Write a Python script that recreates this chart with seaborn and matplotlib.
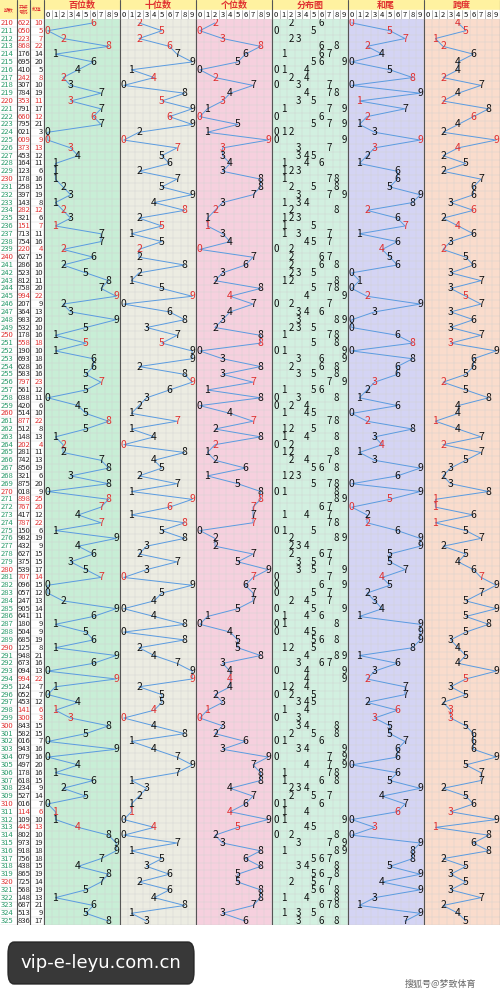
import matplotlib
matplotlib.use("Agg")
import matplotlib.pyplot as plt
import seaborn as sns
import numpy as np
import pandas as pd
from matplotlib.patches import Rectangle, FancyBboxPatch

sns.set_theme(style="white")
plt.rcParams['font.family'] = ['Noto Sans CJK SC', 'DejaVu Sans']

issues = list(range(210, 326))
numbers = ["622","050","223","868","176","695","410","242","307","784","353","791","660","795","021","009",
           "373","453","164","123","178","258","397","143","282","321","151","713","754","220","627","286",
           "523","812","758","994","207","364","983","532","178","558","190","693","628","583","797","561",
           "038","420","514","877","512","148","202","281","742","856","321","875","018","898","767","417",
           "787","150","982","432","627","375","539","707","096","057","247","905","641","180","504","685",
           "125","948","673","094","994","124","052","453","141","300","843","582","016","943","079","497",
           "178","618","234","527","016","114","109","445","802","973","918","756","438","865","725","568",
           "148","687","513","836"]
panel_titles = ["百位数", "十位数", "个位数", "分布图", "和尾", "跨度"]
panel_colors = ["#c8eed6", "#ecece2", "#f6d0de", "#d2f0e0", "#d4d4f4", "#fadccc"]
col_titles = ["期数", "开奖\n号码", "和值"]

digits = [[int(c) for c in n] for n in numbers]
sums = [sum(d) for d in digits]
pair = [len(set(d)) < 3 for d in digits]
series = {
    0: [d[0] for d in digits],
    1: [d[1] for d in digits],
    2: [d[2] for d in digits],
    4: [s % 10 for s in sums],
    5: [max(d) - min(d) for d in digits],
}

W, H = 500, 996
fig = plt.figure(figsize=(W/100, H/100), dpi=100)
top, bot = 19, 925
ax = fig.add_axes([0, 1 - bot/H, 1, (bot-top)/H])
L = -44/7.6
ax.set_xlim(L, 60)
ax.set_ylim(325.5, 209.5)
ax.axis("off")

for p in range(6):
    ax.add_patch(Rectangle((p*10, 209.5), 10, 116, color=panel_colors[p], zorder=0))
ax.add_patch(Rectangle((L, 209.5), -L, 116, color="white", zorder=0))
for y in np.arange(209.5, 326, 1):
    ax.plot([L, 60], [y, y], color="#d0d0d0", lw=0.3, zorder=1)
for x in np.arange(0, 61, 1):
    ax.plot([x, x], [209.5, 325.5], color="#d0d0d0", lw=0.3, zorder=1)
for x in [L+17/7.6, L+30/7.6] + [p*10 for p in range(7)]:
    ax.plot([x, x], [209.5, 325.5], color="#555555", lw=0.8, zorder=2)

red = "#e03030"
for i, iss in enumerate(issues):
    c = red if iss % 10 == 0 else "#2a9a6a"
    ax.text(L+0.1, iss, str(iss), fontsize=5.5, color=c, va="center", ha="left", zorder=5)
    cc = red if pair[i] else "#222222"
    ax.text(L+17.5/7.6, iss, numbers[i], fontsize=5.5, color=cc, va="center", ha="left", zorder=5)
    ax.text(L+43/7.6, iss, str(sums[i]), fontsize=5.5, color=cc, va="center", ha="right", zorder=5)

for p, vals in series.items():
    xs = [p*10 + v + 0.5 for v in vals]
    df = pd.DataFrame({"x": xs, "y": issues})
    sns.lineplot(data=df, x="x", y="y", sort=False, estimator=None, ax=ax,
                 color="#5a9be0", lw=0.7, zorder=3, legend=False)
    for i, (x, v) in enumerate(zip(xs, vals)):
        ax.text(x, issues[i], str(v), fontsize=7.5, color=red if pair[i] else "#111111",
                ha="center", va="center", zorder=5)
for i, d in enumerate(digits):
    for v in sorted(set(d)):
        ax.text(30 + v + 0.5, issues[i], str(v), fontsize=7, color="#111111",
                ha="center", va="center", zorder=5)
ax.set_xlabel(""); ax.set_ylabel("")

# header
hx = fig.add_axes([0, 1 - top/H, 1, top/H])
hx.set_xlim(L, 60); hx.set_ylim(2, 0); hx.axis("off")
hx.add_patch(Rectangle((L, 0), 60-L, 1.05, color="#fff2a0"))
hx.add_patch(Rectangle((L, 1.05), 60-L, 0.95, color="white"))
hx.add_patch(Rectangle((L, 0), -L, 2, color="#fff2a0"))
for p in range(6):
    hx.text(p*10+5, 0.55, panel_titles[p], fontsize=6.5, color=red, weight="bold", ha="center", va="center")
    for v in range(10):
        hx.text(p*10+v+0.5, 1.55, str(v), fontsize=5.5, color="#111111", ha="center", va="center")
        hx.plot([p*10+v, p*10+v], [1.05, 2], color="#888888", lw=0.4)
for j, (t, x) in enumerate(zip(col_titles, [L+8.5/7.6, L+23.5/7.6, L+37/7.6])):
    hx.text(x, 1.0, t, fontsize=3.5, color=red, ha="center", va="center", linespacing=1.0)
for x in [L+17/7.6, L+30/7.6] + [p*10 for p in range(7)]:
    hx.plot([x, x], [0, 2], color="#555555", lw=0.8)

fig.patches.append(FancyBboxPatch((8/W, 12/H), 186/W, 42/H, boxstyle="round,pad=0,rounding_size=0.012",
                                  transform=fig.transFigure, color="#222222", alpha=0.9))
fig.text(101/W, 33/H, "vip-e-leyu.com.cn", fontsize=13, color="white", ha="center", va="center",
         family=["DejaVu Sans"])
fig.text(440/W, 12/H, "搜狐号@梦致体育", fontsize=6.5, color="#666666", ha="center", va="center")

fig.savefig("out.png", dpi=100, facecolor="white")
